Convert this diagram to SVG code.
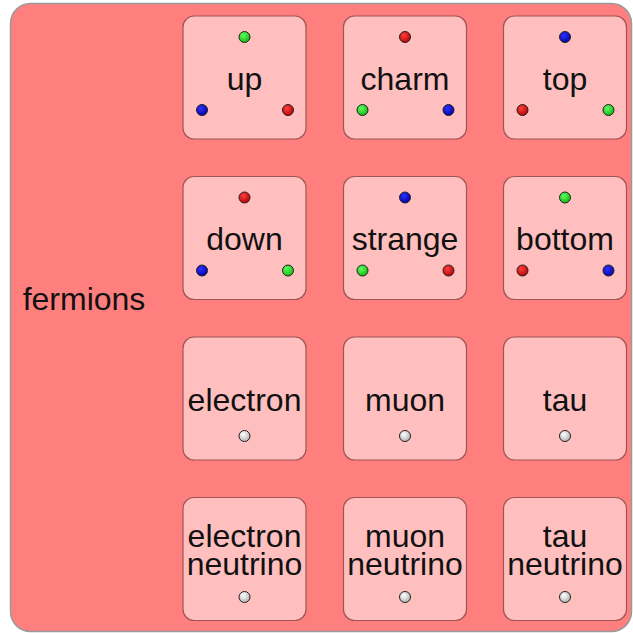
<svg xmlns="http://www.w3.org/2000/svg" width="633" height="633" viewBox="0 0 633 633">
<style>
.outer{fill:#ff7f7f;stroke:#9a9a9a;stroke-width:1.5}
.node{fill:#ffbfbf;stroke:#a05555;stroke-width:1.2}
.t{font-family:"Liberation Sans",Arial,sans-serif;font-size:32px;fill:#111;text-anchor:middle}
.dot{stroke:#222;stroke-width:1}
.r{fill:url(#gr)}.g{fill:url(#gg)}.b{fill:url(#gb)}.w{fill:url(#gw)}
</style>
<defs>
<radialGradient id="gr" cx="0.4" cy="0.35" r="0.7"><stop offset="0" stop-color="#ff4040"/><stop offset="1" stop-color="#b00000"/></radialGradient>
<radialGradient id="gg" cx="0.4" cy="0.35" r="0.7"><stop offset="0" stop-color="#60ff60"/><stop offset="1" stop-color="#10b010"/></radialGradient>
<radialGradient id="gb" cx="0.4" cy="0.35" r="0.7"><stop offset="0" stop-color="#3030ff"/><stop offset="1" stop-color="#0000a0"/></radialGradient>
<radialGradient id="gw" cx="0.4" cy="0.35" r="0.7"><stop offset="0" stop-color="#ffffff"/><stop offset="1" stop-color="#b0b0b0"/></radialGradient>
</defs>
<g id="fermions">
<rect class="outer" x="10.5" y="3.5" width="621" height="628" rx="20"/>
<text class="t" x="84" y="310" font-size="32">fermions</text>
</g>
<g id="connectors"></g>
<g id="up">
<rect class="node" x="183" y="16" width="123" height="123" rx="11"/>
<text class="t" x="244.5" y="90">up</text>
<circle class="dot g" cx="244.5" cy="37" r="5.5"/><circle class="dot b" cx="202" cy="110" r="5.5"/><circle class="dot r" cx="288" cy="110" r="5.5"/>
</g>
<g id="charm">
<rect class="node" x="343.5" y="16" width="123" height="123" rx="11"/>
<text class="t" x="405" y="90">charm</text>
<circle class="dot r" cx="405" cy="37" r="5.5"/><circle class="dot g" cx="362.5" cy="110" r="5.5"/><circle class="dot b" cx="448.5" cy="110" r="5.5"/>
</g>
<g id="top">
<rect class="node" x="503.5" y="16" width="123" height="123" rx="11"/>
<text class="t" x="565" y="90">top</text>
<circle class="dot b" cx="565" cy="37" r="5.5"/><circle class="dot r" cx="522.5" cy="110" r="5.5"/><circle class="dot g" cx="608.5" cy="110" r="5.5"/>
</g>
<g id="down">
<rect class="node" x="183" y="176.5" width="123" height="123" rx="11"/>
<text class="t" x="244.5" y="250">down</text>
<circle class="dot r" cx="244.5" cy="197.5" r="5.5"/><circle class="dot b" cx="202" cy="270.5" r="5.5"/><circle class="dot g" cx="288" cy="270.5" r="5.5"/>
</g>
<g id="strange">
<rect class="node" x="343.5" y="176.5" width="123" height="123" rx="11"/>
<text class="t" x="405" y="250">strange</text>
<circle class="dot b" cx="405" cy="197.5" r="5.5"/><circle class="dot g" cx="362.5" cy="270.5" r="5.5"/><circle class="dot r" cx="448.5" cy="270.5" r="5.5"/>
</g>
<g id="bottom">
<rect class="node" x="503.5" y="176.5" width="123" height="123" rx="11"/>
<text class="t" x="565" y="250">bottom</text>
<circle class="dot g" cx="565" cy="197.5" r="5.5"/><circle class="dot r" cx="522.5" cy="270.5" r="5.5"/><circle class="dot b" cx="608.5" cy="270.5" r="5.5"/>
</g>
<g id="electron">
<rect class="node" x="183" y="337" width="123" height="123" rx="11"/>
<text class="t" x="244.5" y="411">electron</text>
<circle class="dot w" cx="244.5" cy="436" r="5.5"/>
</g>
<g id="muon">
<rect class="node" x="343.5" y="337" width="123" height="123" rx="11"/>
<text class="t" x="405" y="411">muon</text>
<circle class="dot w" cx="405" cy="436" r="5.5"/>
</g>
<g id="tau">
<rect class="node" x="503.5" y="337" width="123" height="123" rx="11"/>
<text class="t" x="565" y="411">tau</text>
<circle class="dot w" cx="565" cy="436" r="5.5"/>
</g>
<g id="electron-neutrino">
<rect class="node" x="183" y="497.5" width="123" height="123" rx="11"/>
<text class="t" x="244.5" y="547">electron</text><text class="t" x="244.5" y="575">neutrino</text>
<circle class="dot w" cx="244.5" cy="597" r="5.5"/>
</g>
<g id="muon-neutrino">
<rect class="node" x="343.5" y="497.5" width="123" height="123" rx="11"/>
<text class="t" x="405" y="547">muon</text><text class="t" x="405" y="575">neutrino</text>
<circle class="dot w" cx="405" cy="597" r="5.5"/>
</g>
<g id="tau-neutrino">
<rect class="node" x="503.5" y="497.5" width="123" height="123" rx="11"/>
<text class="t" x="565" y="547">tau</text><text class="t" x="565" y="575">neutrino</text>
<circle class="dot w" cx="565" cy="597" r="5.5"/>
</g>
</svg>
